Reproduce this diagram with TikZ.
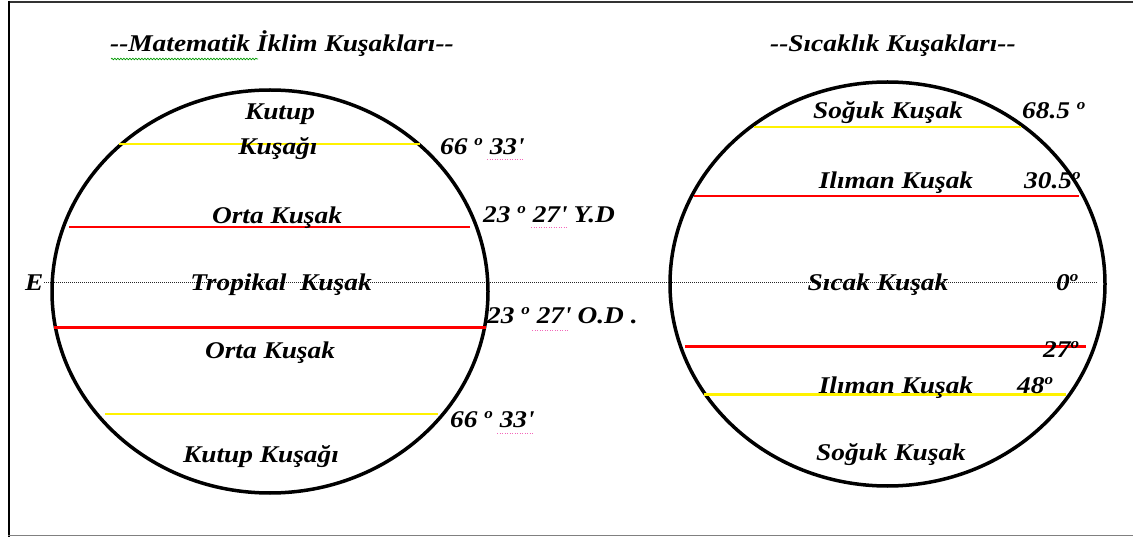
\documentclass[tikz,border=0pt]{standalone}
\usepackage{fontspec}
\usetikzlibrary{decorations.pathmorphing,shapes.geometric}
\newfontfamily\zf{Liberation Serif}[FakeStretch=1.14]
\newcommand\degsym{\raisebox{0.4em}{\fontsize{15}{15}\selectfont o}}
\newcommand\pr{\textquotesingle}
\tikzset{
  zt/.style={font=\zf\fontsize{24}{28}\selectfont\bfseries\itshape, inner sep=0pt},
  zl/.style={zt, anchor=base},
  nl/.style={zt, anchor=base west},
  globe/.style={draw=black, line width=3.5pt},
  yel/.style={draw=yellow, line width=2.5pt},
  redl/.style={draw=red, line width=2.5pt},
  eq/.style={draw=black!85, line width=1.2pt, dash pattern=on 1pt off 1pt},
  spell/.style={draw=magenta!60, line width=1pt, dash pattern=on 1pt off 1.5pt},
  gram/.style={draw=green!60!black, line width=0.7pt, decorate, decoration={snake, amplitude=0.8pt, segment length=3pt}}
}
\begin{document}
\begin{tikzpicture}[x=1pt, y=-1pt]
\useasboundingbox (0,0) rectangle (1133,537);
% frame
\draw[black!80, line width=2pt] (8,2) -- (1133,2);
\draw[black, line width=2pt] (8.5,1) -- (8.5,537);
\draw[black!50, line width=1.5pt] (8,535.5) -- (1133,535.5);
% equator dotted line
\coordinate (eqL) at (44,282.5);
\coordinate (eqR) at (1098,282.5);
\draw[eq] (eqL) -- (eqR);
% globes
\node[globe, ellipse, minimum width=436pt, minimum height=403pt, inner sep=0pt] (g1) at (270,291.5) {};
\node[globe, ellipse, minimum width=435pt, minimum height=404pt, inner sep=0pt] (g2) at (887.5,284) {};
% left lines
\draw[yel]  (119,144) -- (420,144);
\draw[redl] (69,227) -- (470,227);
\draw[redl] (54,327.5) -- (486,327.5);
\draw[yel]  (105,414) -- (438,414);
% right lines
\draw[yel]  (754,127) -- (1021,127);
\draw[redl] (694,196) -- (1079,196);
\draw[redl] (685,346.5) -- (1086,346.5);
\draw[yel]  (704,394.5) -- (1066,394.5);
% titles
\node[nl] (t1) at (110,52) {-\kern0pt-Matematik İklim Kuşakları-\kern0pt-};
\node[nl] (t2) at (770,52) {-\kern0pt-Sıcaklık Kuşakları-\kern0pt-};
\draw[gram] (111,59) -- (258,59);
% left labels
\node[zl] (a1) at (280,120) {Kutup};
\node[zl] (a2) at (278,155) {Kuşağı};
\node[zl] (a3) at (277,224) {Orta Kuşak};
\node[zl] (a4) at (281,291) {Tropikal~~Kuşak};
\node[zl] (a5) at (270,359) {Orta Kuşak};
\node[zl] (a6) at (261,462) {Kutup Kuşağı};
\node[nl] (e) at (25,291) {E};
\node[nl] (b1) at (440,155) {66 \degsym\ 33\pr};
\node[nl] (b2) at (483,223) {23 \degsym\ 27\pr\ Y.D};
\node[nl] (b3) at (487,324) {23 \degsym\ 27\pr\ O.D .};
\node[nl] (b4) at (450,428) {66 \degsym\ 33\pr};
\draw[spell] (487,160) -- (523,160);
\draw[spell] (531,228) -- (567,228);
\draw[spell] (532,331) -- (569,331);
\draw[spell] (497,433) -- (533,433);
% right labels
\node[zl] (c1) at (888,119) {Soğuk Kuşak};
\node[zl] (c2) at (896,189) {Ilıman Kuşak};
\node[zl] (c3) at (878,291) {Sıcak Kuşak};
\node[zl] (c4) at (896,394) {Ilıman Kuşak};
\node[zl] (c5) at (891,460) {Soğuk Kuşak};
\node[nl] (d1) at (1022,119) {68.5 \degsym};
\node[nl] (d2) at (1024,189) {30.5\degsym};
\node[nl] (d3) at (1056,291) {0\degsym};
\node[nl] (d4) at (1043,358) {27\degsym};
\node[nl] (d5) at (1017,394) {48\degsym};
\end{tikzpicture}
\end{document}
